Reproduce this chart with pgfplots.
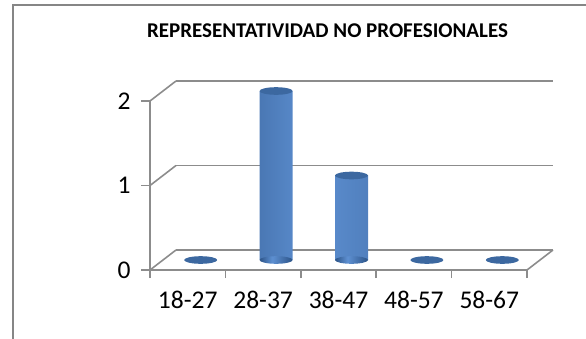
\documentclass[border=0pt]{standalone}
\usepackage{fontspec}
\setmainfont{Carlito}
\usepackage{pgfplots}
\usepackage{pgfplotstable}
\pgfplotsset{compat=1.18}

\definecolor{gridgray}{RGB}{140,140,140}
\definecolor{framegray}{RGB}{134,134,134}
\definecolor{cylDark}{RGB}{44,84,136}
\definecolor{cylLight}{RGB}{94,144,210}
\definecolor{cylTop}{RGB}{60,104,160}

% body shading of the cylinders (inner 25bp..75bp maps onto the bar)
\pgfdeclarehorizontalshading{cylbody}{100bp}{%
  color(0bp)=(cylDark); color(25bp)=(cylDark); color(44bp)=(cylLight);
  color(75bp)=(cylDark); color(100bp)=(cylDark)}

% elliptic caps of the cylinders
\pgfdeclareplotmark{cylcap}{%
  \pgfpathellipse{\pgfpointorigin}{\pgfqpoint{16.5pt}{0pt}}{\pgfqpoint{0pt}{3.8pt}}%
  \pgfusepathqfill}
\pgfdeclareplotmark{cylbase}{%
  \pgfpathellipse{\pgfpointorigin}{\pgfqpoint{16.5pt}{0pt}}{\pgfqpoint{0pt}{3.8pt}}%
  \pgfshadepath{cylbody}{0}\pgfusepath{discard}}

\pgfplotstableread{
idx count
1 0
2 2
3 1
4 0
5 0
}\agedata

\begin{document}
\begin{tikzpicture}
\useasboundingbox (0,0) rectangle (586pt,338pt);
\clip (0,0) rectangle (586pt,338pt);
% chart frame
\draw[framegray, line width=2pt] (13pt,-20pt) -- (13pt,333pt) -- (620pt,333pt);
% title
\node[anchor=base, font=\fontsize{21}{25}\selectfont\bfseries, inner sep=0pt]
  at (327.5pt,300.3pt) {REPRESENTATIVIDAD NO PROFESIONALES};

\begin{axis}[
  at={(150pt,68pt)}, anchor=south west,
  scale only axis, width=377pt, height=169pt,
  xmin=0.5, xmax=5.5, ymin=0, ymax=2,
  clip=false,
  axis x line*=bottom, axis y line*=left,
  axis line style={draw=gridgray, line width=1.6pt},
  tick align=outside,
  xtick={1,...,5},
  xticklabels={18-27,28-37,38-47,48-57,58-67},
  minor xtick={0.5,1.5,...,5.5},
  ytick={0,1,2},
  major tick length=9pt, minor tick length=8pt,
  tick style={draw=gridgray, line width=1.6pt},
  major x tick style={draw=none},
  ticklabel style={font=\fontsize{25.5}{30}\selectfont},
  /pgf/number format/assume math mode=true,
  xticklabel style={yshift=-8.5pt},
  yticklabel style={xshift=-7pt},
]
% walls: back grid lines, depth edges and floor
\begin{scope}[shift={(26pt,20pt)}]
  \draw[gridgray, line width=1.6pt] (axis cs:0.5,0) -- (axis cs:5.5,0);
  \draw[gridgray, line width=1.6pt] (axis cs:0.5,1) -- (axis cs:5.5,1);
  \draw[gridgray, line width=1.6pt] (axis cs:0.5,2) -- (axis cs:5.5,2);
\end{scope}
\draw[gridgray, line width=1.6pt] (axis cs:0.5,0) -- ++(26pt,20pt);
\draw[gridgray, line width=1.6pt] (axis cs:0.5,1) -- ++(26pt,20pt);
\draw[gridgray, line width=1.6pt] (axis cs:0.5,2) -- ++(26pt,20pt);
\draw[gridgray, line width=1.6pt] (axis cs:5.5,0) -- ++(26pt,20pt);

% cylinders, set half-way into the depth
\addplot[only marks, mark=cylbase, xshift=13pt, yshift=10pt]
  coordinates {(2,0) (3,0)};
\addplot[ybar, bar width=33pt, draw=none, shading=cylbody, shade,
  xshift=13pt, yshift=10pt] table[x=idx, y=count] {\agedata};
\addplot[only marks, mark=cylcap, mark options={fill=cylTop, draw=none},
  xshift=13pt, yshift=10pt] table[x=idx, y=count] {\agedata};
\end{axis}
\end{tikzpicture}
\end{document}
